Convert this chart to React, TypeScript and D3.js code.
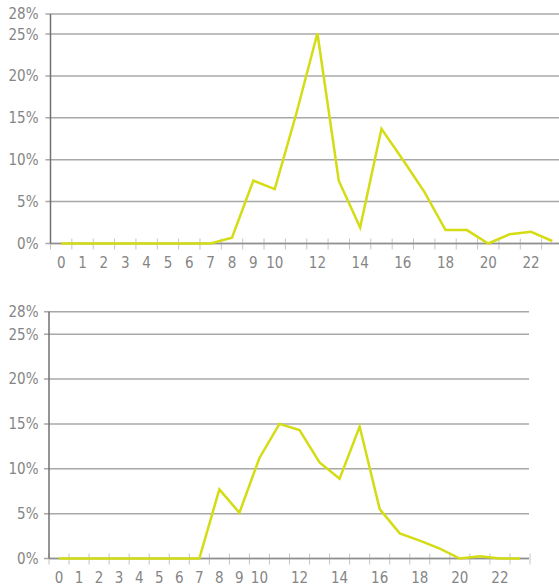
import * as d3 from "d3";

// hours of the day
const hours = d3.range(0, 24).map(String);

// share per hour, in %
const topValues = [0, 0, 0, 0, 0, 0, 0, 0, 0.7, 7.5, 6.5, 15.4, 25.1, 7.5, 1.9, 13.7, 10, 6.2, 1.6, 1.6, 0, 1.1, 1.4, 0.3];
const bottomValues = [0, 0, 0, 0, 0, 0, 0, 0, 7.7, 5.1, 11.2, 15.0, 14.3, 10.7, 8.9, 14.7, 5.5, 2.8, 2.0, 1.1, 0, 0.25, 0, 0];

const yTicks = [0, 5, 10, 15, 20, 25];
const yTopLabel = "28%";

const font = "'DejaVu Sans Condensed', 'Liberation Sans', sans-serif";
const labelColor = "#858585";
const gridColor = "#a8a8a8";
const lineColor = "#d4dc14";

interface ChartProps {
    values: number[];
    left: number;
    right: number;      // end of the band scale
    gridRight: number;  // where the gridlines stop
    top: number;
    bottom: number;
    yMax: number;
    labelDy: number;
}

const Chart = ({ values, left, right, gridRight, top, bottom, yMax, labelDy }: ChartProps) => {
    const x = d3.scaleBand().domain(hours).range([left, right]).padding(0);
    const y = d3.scaleLinear().domain([0, yMax]).range([bottom, top]);

    const line = d3.line<number>()
        .x((_, i) => x(hours[i])! + x.bandwidth() / 2)
        .y(d => y(d));

    const gridVals = [...yTicks, yMax];

    return (
        <g>
            {/* horizontal gridlines */}
            {gridVals.map(v => (
                <g key={v}>
                    <line x1={left - 5} x2={gridRight} y1={y(v)} y2={y(v)} stroke={gridColor} strokeWidth={1.5} />
                    <text x={38.5} y={y(v)} dy="0.36em" textAnchor="end" fontFamily={font} fontSize={15} fill={labelColor}>
                        {v === yMax ? yTopLabel : `${v}%`}
                    </text>
                </g>
            ))}

            {/* x ticks on band edges */}
            {hours.map(h => (
                <line key={h} x1={x(h)!} x2={x(h)!} y1={bottom - 5} y2={bottom + 6} stroke="#c4c4c4" strokeWidth={1} />
            ))}
            <line x1={right} x2={right} y1={bottom - 5} y2={bottom + 6} stroke="#c4c4c4" strokeWidth={1} />

            {/* x labels: every hour up to 9, then even hours */}
            {hours.map((h, i) => (i < 10 || i % 2 === 0) ? (
                <text key={h} x={x(h)! + x.bandwidth() / 2} y={bottom + labelDy} textAnchor="middle" fontFamily={font} fontSize={15} fill={labelColor}>
                    {h}
                </text>
            ) : null)}

            {/* baseline and left axis */}
            <line x1={left} x2={gridRight} y1={bottom} y2={bottom} stroke="#909090" strokeWidth={1.5} />
            <line x1={left} x2={left} y1={top} y2={bottom} stroke="#707070" strokeWidth={1.5} />

            <path d={line(values)!} fill="none" stroke={lineColor} strokeWidth={2.5} strokeLinejoin="miter" />
        </g>
    );
};

export default function App() {
    const width = 559;
    const height = 587;
    return (
        <svg width={width} height={height} style={{ position: "absolute", left: 0, top: 0, background: "#fff" }}>
            <Chart values={topValues} left={50.5} right={563} gridRight={559} top={14} bottom={243.5} yMax={27.4} labelDy={24} />
            <Chart values={bottomValues} left={49} right={530} gridRight={529} top={311.7} bottom={558.5} yMax={27.5} labelDy={24} />
        </svg>
    );
}
